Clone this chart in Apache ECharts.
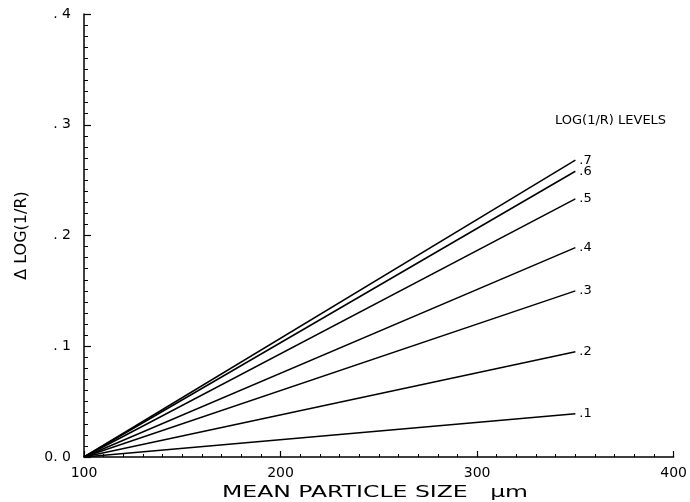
<!DOCTYPE html>
<html>
<head>
<meta charset="utf-8">
<script src="https://cdn.jsdelivr.net/npm/echarts@6/dist/echarts.min.js"></script>
<style>html,body{margin:0;padding:0;background:#fff}#c{width:690px;height:502px}</style>
</head>
<body>
<div id="c"></div>
<script>
// Level labels and the Δlog(1/R) reached at the end of each line
const levels = ['.1', '.2', '.3', '.4', '.5', '.6', '.7'];
const startSize = 100;
const endSize = 350;
const endValues = [0.039, 0.095, 0.150, 0.189, 0.233, 0.258, 0.268];
const yTickLabels = { '0': '0. 0', '0.1': '. 1', '0.2': '. 2', '0.3': '. 3', '0.4': '. 4' };

const FONT = 'DejaVu Sans';
const chart = echarts.init(document.getElementById('c'), null, { renderer: 'canvas' });

const series = levels.map((lv, i) => ({
  name: lv,
  type: 'line',
  data: [[startSize, 0], [endSize, endValues[i]]],
  symbol: 'none',
  silent: true,
  lineStyle: { color: '#000', width: 1.5 },
  endLabel: {
    show: true,
    formatter: '{a}',
    color: '#000',
    fontFamily: FONT,
    fontSize: 13,
    distance: 4
  }
}));

chart.setOption({
  animation: false,
  backgroundColor: '#fff',
  grid: { left: 84, right: 14, top: 14, bottom: 45 },
  xAxis: {
    type: 'value', min: 100, max: 400, interval: 100,
    axisLine: { lineStyle: { color: '#000', width: 1.5 } },
    axisTick: { inside: true, length: 6, lineStyle: { color: '#000', width: 1.2 } },
    minorTick: { show: true, splitNumber: 10, length: 3, lineStyle: { color: '#000', width: 1 } },
    axisLabel: { color: '#000', fontFamily: FONT, fontSize: 14, margin: 9 },
    splitLine: { show: false }
  },
  yAxis: {
    type: 'value', min: 0, max: 0.4, interval: 0.1,
    name: 'Δ LOG(1/R)', nameLocation: 'middle', nameGap: 54,
    nameTextStyle: { color: '#000', fontFamily: FONT, fontSize: 16 },
    axisLine: { show: true, lineStyle: { color: '#000', width: 1.5 } },
    axisTick: { inside: true, length: 7, lineStyle: { color: '#000', width: 1.2 } },
    minorTick: { show: true, splitNumber: 10, length: 4, lineStyle: { color: '#000', width: 1 } },
    axisLabel: {
      color: '#000', fontFamily: FONT, fontSize: 14, margin: 13,
      formatter: v => yTickLabels[String(Math.round(v * 10) / 10)] || ''
    },
    splitLine: { show: false }
  },
  graphic: [
    {
      type: 'text', left: 555, top: 114,
      style: { text: 'LOG(1/R) LEVELS', fill: '#000', font: '13px "' + FONT + '"' }
    },
    {
      type: 'text', x: 222, y: 485, scaleX: 1.47,
      style: { text: 'MEAN PARTICLE SIZE   µm', fill: '#000', font: '16px "' + FONT + '"' }
    }
  ],
  series
});
</script>
</body>
</html>
